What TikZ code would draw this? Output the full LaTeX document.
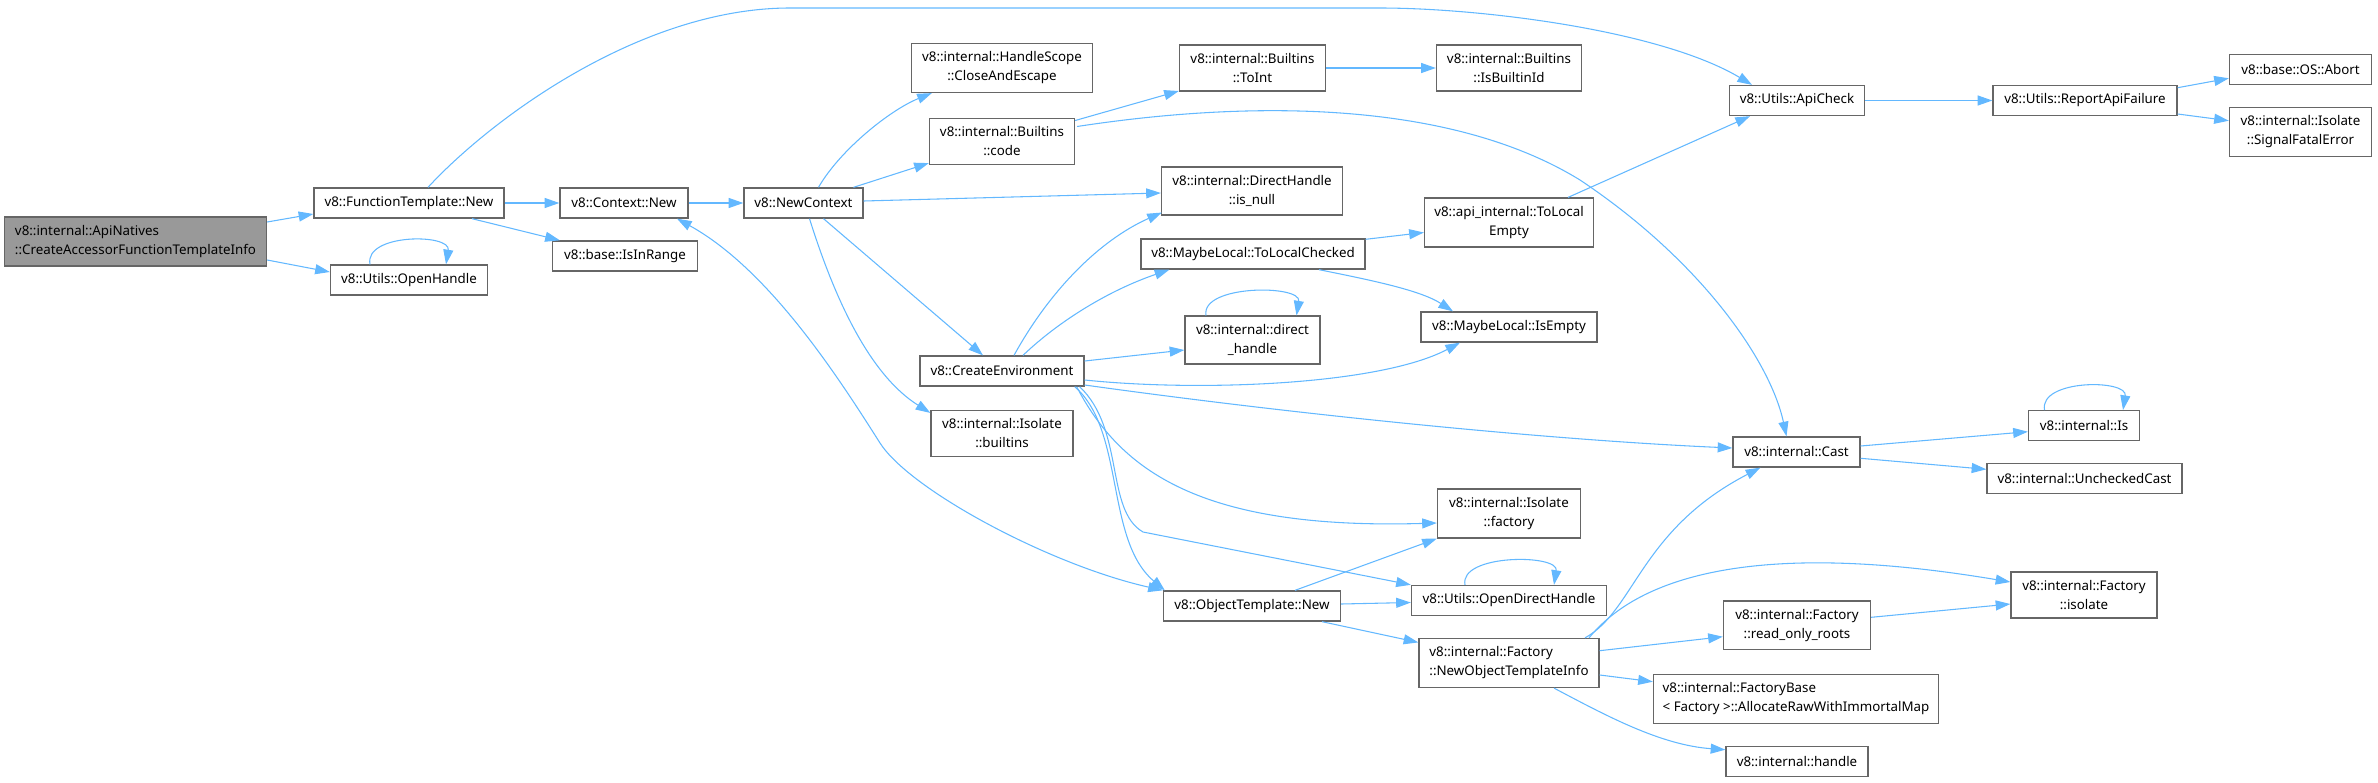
\documentclass[tikz,border=0pt]{standalone}
\usepackage{fontspec}
\setmainfont{Noto Sans}
\usetikzlibrary{arrows.meta,calc}
\definecolor{callblue}{HTML}{63B8FF}
\definecolor{boxgray}{HTML}{666666}
\definecolor{rootgray}{HTML}{999999}
\tikzset{
  fn/.style={draw=boxgray, fill=white, line width=1pt, inner xsep=4pt, inner ysep=6.2pt,
    minimum height=22.5pt, align=center, font=\fontsize{10}{14.25}\selectfont},
  rootfn/.style={fill=rootgray},
  bw/.style={minimum width=#1*0.75pt},
  call/.style={draw=callblue, line width=0.8pt, -{Triangle[length=11pt,width=7.5pt]}},
  twoway/.style={{Triangle[length=11pt,width=7.5pt]}-{Triangle[length=11pt,width=7.5pt]}},
}
\begin{document}
\begin{tikzpicture}[x=0.75pt, y=-0.75pt]
  \useasboundingbox (0,0) rectangle (2378,782);
  % functions
  \node[fn, rootfn, bw=262, align=left] (apinat) at (135.5,241.5) {v8::internal::ApiNatives\\::CreateAccessorFunctionTemplateInfo};
  \node[fn, bw=190] (ftnew) at (409,203) {v8::FunctionTemplate::New};
  \node[fn, bw=157] (openh) at (409,280) {v8::Utils::OpenHandle};
  \node[fn, bw=128] (ctxnew) at (624,203) {v8::Context::New};
  \node[fn, bw=145] (inrange) at (625,256) {v8::base::IsInRange};
  \node[fn, bw=119] (newctx) at (803.5,203) {v8::NewContext};
  \node[fn, bw=181] (closeesc) at (1002,68) {v8::internal::HandleScope\\::CloseAndEscape};
  \node[fn, bw=145] (bcode) at (1002,141.5) {v8::internal::Builtins\\::code};
  \node[fn, bw=164] (createenv) at (1002,371) {v8::CreateEnvironment};
  \node[fn, bw=142] (ibuiltins) at (1002,433.5) {v8::internal::Isolate\\::builtins};
  \node[fn, bw=146] (toint) at (1252.5,68) {v8::internal::Builtins\\::ToInt};
  \node[fn, bw=181] (isnull) at (1252,191) {v8::internal::DirectHandle\\::is\_null};
  \node[fn, bw=224] (tolocal) at (1253,254) {v8::MaybeLocal::ToLocalChecked};
  \node[fn, bw=135] (dhandle) at (1252.5,340) {v8::internal::direct\\\_handle};
  \node[fn, bw=177] (otnew) at (1252,606) {v8::ObjectTemplate::New};
  \node[fn, bw=145] (isbid) at (1509,68) {v8::internal::Builtins\\::IsBuiltinId};
  \node[fn, bw=169] (tolocalempty) at (1509,222.5) {v8::api\_internal::ToLocal\\Empty};
  \node[fn, bw=176] (isempty) at (1509,327) {v8::MaybeLocal::IsEmpty};
  \node[fn, bw=143] (ifactory) at (1509,513.5) {v8::internal::Isolate\\::factory};
  \node[fn, bw=195] (opendh) at (1509,600.5) {v8::Utils::OpenDirectHandle};
  \node[fn, bw=180, align=left] (newoti) at (1509,663) {v8::internal::Factory\\::NewObjectTemplateInfo};
  \node[fn, bw=135] (apicheck) at (1797,100.5) {v8::Utils::ApiCheck};
  \node[fn, bw=127] (cast) at (1796.5,452) {v8::internal::Cast};
  \node[fn, bw=147] (roroots) at (1797,625.3) {v8::internal::Factory\\::read\_only\_roots};
  \node[fn, bw=285, align=left] (allocraw) at (1796,699) {v8::internal::FactoryBase\\< Factory >::AllocateRawWithImmortalMap};
  \node[fn, bw=142] (ihandle) at (1797,761.7) {v8::internal::handle};
  \node[fn, bw=184] (report) at (2085,100.5) {v8::Utils::ReportApiFailure};
  \node[fn, bw=111] (isfn) at (2084,425.7) {v8::internal::Is};
  \node[fn, bw=195] (unchecked) at (2084.5,478.8) {v8::internal::UncheckedCast};
  \node[fn, bw=146] (fisolate) at (2084,595) {v8::internal::Factory\\::isolate};
  \node[fn, bw=142] (abort) at (2300.5,69.7) {v8::base::OS::Abort};
  \node[fn, bw=142] (fatal) at (2300.5,132) {v8::internal::Isolate\\::SignalFatalError};

  % calls
  \draw[call] ($(apinat.east)+(0,-19.5)$) -- ($(ftnew.west)+(0,11)$);
  \draw[call] ($(apinat.east)+(0,18.5)$) -- ($(openh.west)+(0,-8)$);
  \draw[call] ($(openh.north)+(-39,0)$) .. controls ($(openh.north)+(-45,-31)$) and ($(openh.north)+(42,-31)$) .. ($(openh.north)+(37,0)$);
  \draw[call] ($(ftnew.north)+(19,0)$) .. controls (490,120) and (640,8) .. (790,8) -- (1380,8)
    .. controls (1480,8) and (1660,30) .. ($(apicheck.north)+(-45,0)$);
  \draw[call] (ftnew.east) -- (ctxnew.west);
  \draw[call] ($(ftnew.south)+(63,0)$) -- ($(inrange.north west)+(8,0)$);
  \draw[call] (ctxnew.east) -- (newctx.west);
  \draw[call] ($(newctx.north)+(15,0)$) .. controls (840,150) and (890,110) .. ($(closeesc.south west)+(21,0)$);
  \draw[call] ($(newctx.north)+(50,0)$) -- ($(bcode.south west)+(0,-2)$);
  \draw[call] ($(newctx.east)+(0,-2)$) -- ($(isnull.west)+(0,2)$);
  \draw[call] ($(newctx.south)+(20,0)$) -- ($(createenv.north)+(-19,0)$);
  \draw[call] ($(newctx.south)+(6,0)$) .. controls (835,300) and (870,375) .. ($(ibuiltins.north west)+(0,3)$);
  \draw[call] ($(bcode.east)+(0,-21)$) -- ($(toint.west)+(0,23)$);
  \draw[call] ($(bcode.east)+(2,-15)$) .. controls (1250,100) and (1450,100) .. (1580,180)
    .. controls (1700,260) and (1770,360) .. ($(cast.north)+(-10,0)$);
  \draw[call] (toint.east) -- (isbid.west);
  \draw[call] ($(createenv.north)+(12,0)$) .. controls (1050,290) and (1100,240) .. ($(isnull.south west)+(1,-3)$);
  \draw[call] ($(createenv.north)+(21,0)$) .. controls (1060,320) and (1110,290) .. ($(tolocal.south west)+(29,0)$);
  \draw[call] ($(createenv.east)+(0,-10)$) -- ($(dhandle.west)+(0,10)$);
  \draw[call] ($(createenv.east)+(0,9)$) .. controls (1200,392) and (1380,385) .. ($(isempty.south)+(-49,0)$);
  \draw[call] ($(createenv.east)+(0,14)$) .. controls (1300,415) and (1550,440) .. ($(cast.west)+(0,-4)$);
  \draw[call] ($(createenv.south east)+(-8,0)$) .. controls (1120,470) and (1200,530) .. ($(ifactory.west)+(0,9.5)$);
  \draw[call] ($(createenv.south east)+(-5,0)$) .. controls (1125,430) and (1105,510) .. (1143,532) -- (opendh.north west);
  \draw[call] ($(createenv.south east)+(-10,0)$) .. controls (1125,430) and (1105,540) .. ($(otnew.north west)+(2,0)$);
  \draw[call] ($(tolocal.east)+(0,-14.7)$) -- ($(tolocalempty.west)+(0,10)$);
  \draw[call] ($(tolocal.south)+(66,0)$) .. controls (1370,280) and (1420,290) .. ($(isempty.north)+(-56,0)$);
  \draw[call] ($(dhandle.north)+(-46.5,0)$) .. controls ($(dhandle.north)+(-52,-31)$) and ($(dhandle.north)+(49,-31)$) .. ($(dhandle.north)+(44,0)$);
  \draw[call] ($(tolocalempty.north)+(59,0)$) -- ($(apicheck.south)+(-47,0)$);
  \draw[call] (apicheck.east) -- (report.west);
  \draw[call] ($(report.east)+(0,-12.8)$) -- ($(abort.west)+(0,8.6)$);
  \draw[call] ($(report.east)+(0,13.5)$) -- ($(fatal.west)+(0,-11.3)$);
  \draw[call, twoway] ($(ctxnew.south)+(53,0)$) .. controls (770,270) and (840,380) .. (880,443)
    .. controls (910,490) and (1050,565) .. (otnew.north west);
  \draw[call] ($(otnew.north)+(43,0)$) -- (ifactory.south west);
  \draw[call] ($(otnew.east)+(0,-2)$) -- ($(opendh.west)+(0,2)$);
  \draw[call] ($(otnew.south)+(70,0)$) -- ($(newoti.north west)+(0,4.5)$);
  \draw[call] ($(opendh.north)+(-44,0)$) .. controls ($(opendh.north)+(-50,-31)$) and ($(opendh.north)+(50,-31)$) .. ($(opendh.north)+(45,0)$);
  \draw[call] ($(newoti.north)+(76,0)$) .. controls (1635,610) and (1640,530) .. ($(cast.south west)+(28,0)$);
  \draw[call] ($(newoti.north)+(80,0)$) .. controls (1640,575) and (1760,540) .. ($(fisolate.west)+(0,-13)$);
  \draw[call] ($(newoti.east)+(0,-12.3)$) -- ($(roroots.west)+(0,11.4)$);
  \draw[call] ($(newoti.east)+(0,12)$) -- ($(allocraw.west)+(0,-17.3)$);
  \draw[call] ($(newoti.south)+(45,0)$) .. controls (1605,715) and (1660,745) .. ($(ihandle.west)+(0,-12)$);
  \draw[call] ($(roroots.east)+(0,-8)$) -- ($(fisolate.west)+(0,9)$);
  \draw[call] ($(cast.east)+(0,-6)$) -- ($(isfn.west)+(0,6)$);
  \draw[call] ($(cast.east)+(0,6.3)$) -- ($(unchecked.west)+(0,-9.5)$);
  \draw[call] ($(isfn.north)+(-39.5,0)$) .. controls ($(isfn.north)+(-45,-31)$) and ($(isfn.north)+(44,-31)$) .. ($(isfn.north)+(39,0)$);
\end{tikzpicture}
\end{document}
